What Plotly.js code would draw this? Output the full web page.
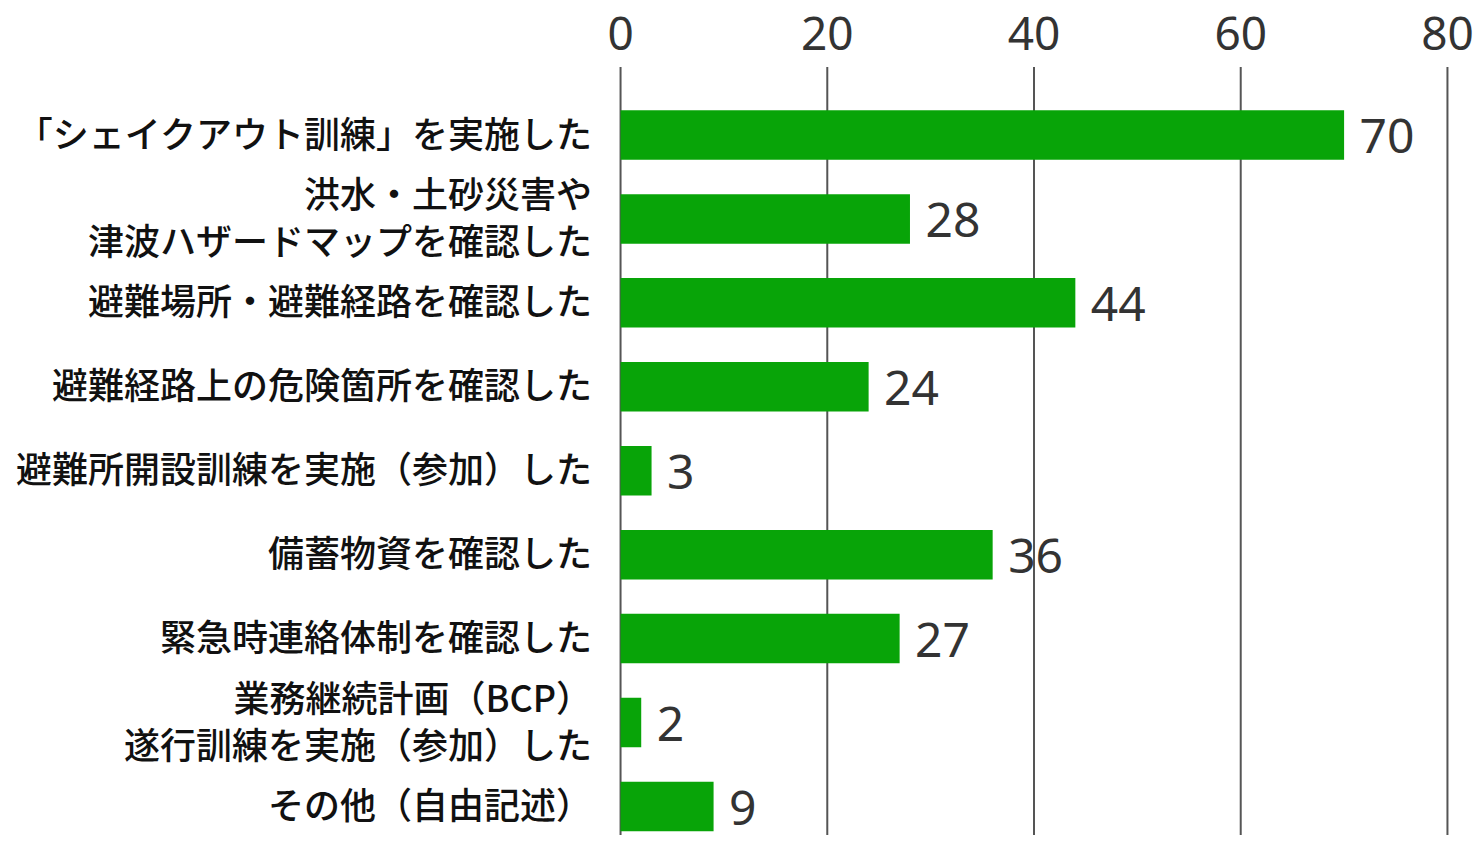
<!DOCTYPE html>
<html>
<head>
<meta charset="utf-8">
<script src="https://cdn.plot.ly/plotly-3.0.1.min.js"></script>
<style>
  html, body { margin: 0; padding: 0; background: #fff; }
  #chart { width: 1479px; height: 841px; }
</style>
</head>
<body>
<div id="chart"></div>
<script>
// categories (top to bottom) and counts
var categories = [
	"「シェイクアウト訓練」を実施した",
	"洪水・土砂災害や<br>津波ハザードマップを確認した",
	"避難場所・避難経路を確認した",
	"避難経路上の危険箇所を確認した",
	"避難所開設訓練を実施（参加）した",
	"備蓄物資を確認した",
	"緊急時連絡体制を確認した",
	"業務継続計画（BCP）<br>遂行訓練を実施（参加）した",
	"その他（自由記述）"
];
var counts = [70, 28, 44, 24, 3, 36, 27, 2, 9];
var xTicks = [0, 20, 40, 60, 80];

var barColor = "#08a408";
var gridColor = "#555";
var numFont  = "Noto Sans, Open Sans, sans-serif";
var jpFont   = "Noto Sans CJK JP, sans-serif";

var trace = {
	type: 'bar',
	orientation: 'h',
	y: categories,
	x: counts,
	// leading nbsp gives the gap between bar end and number
	text: counts.map(function(v){ return "\u00a0" + v; }),
	textposition: 'outside',
	constraintext: 'none',
	cliponaxis: false,
	textfont: { family: numFont, size: 48, color: "#333" },
	marker: { color: barColor, line: { width: 0 } },
	hoverinfo: 'none'
};

// plotly drops grid lines sitting on the plot edges, so draw them as shapes
var gridShapes = xTicks.map(function(t){
	return {
		type: 'line', layer: 'below',
		xref: 'x', yref: 'paper',
		x0: t, x1: t, y0: 0, y1: 1,
		line: { color: gridColor, width: 2 }
	};
});

var layout = {
	width: 1479,
	height: 841,
	margin: { l: 619, r: 30, t: 67, b: 6 },
	paper_bgcolor: "#fff",
	plot_bgcolor: "#fff",
	showlegend: false,
	bargap: 0.41,
	shapes: gridShapes,
	xaxis: {
		side: 'top',
		range: [-0.15, 80.15],
		tickvals: xTicks,
		ticktext: xTicks.map(String),
		showgrid: false,
		zeroline: false,
		showline: false,
		ticks: '',
		tickfont: { family: numFont, size: 46, color: "#333" },
		ticklabelstandoff: 7
	},
	yaxis: {
		type: 'category',
		categoryorder: 'array',
		categoryarray: categories,
		range: [8.34, -0.81],
		showgrid: false,
		zeroline: false,
		showline: false,
		ticks: '',
		ticklabelstandoff: 26,
		tickfont: { family: jpFont, size: 36, weight: 500, color: "#111" }
	}
};

Plotly.newPlot('chart', [trace], layout, { staticPlot: true });
</script>
</body>
</html>
